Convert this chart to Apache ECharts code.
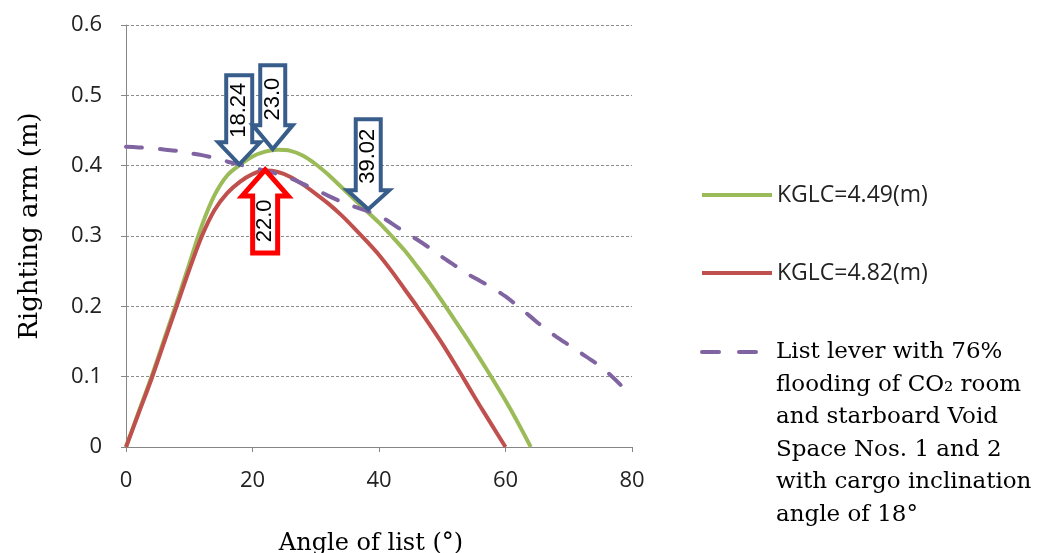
<!DOCTYPE html>
<html><head><meta charset="utf-8">
<script src="https://cdn.jsdelivr.net/npm/echarts@6/dist/echarts.min.js"></script>
<style>html,body{margin:0;padding:0;background:#fff}#c{width:1049px;height:553px}</style>
</head><body><div id="c"></div>
<script>
// ---- data ----
const angles = [0,2,4,6,8,10,12,14,16,18,20,22,24,26,28,30,32,34,36,38,40,42,44,46,48,50,52,54,56,58,60,62,64,66,68,70,72,74,76,78,80];
const kglc449 = [0,0.05,0.099,0.152,0.205,0.26,0.315,0.358,0.386,0.401,0.413,0.42,0.4225,0.421,0.414,0.402,0.387,0.37,0.353,0.336,0.319,0.3,0.28,0.257,0.233,0.207,0.18,0.153,0.125,0.096,0.066,0.034,0];
const kglc482 = [0,0.048,0.096,0.148,0.2,0.252,0.3,0.337,0.361,0.377,0.388,0.393,0.391,0.384,0.373,0.36,0.346,0.33,0.312,0.293,0.273,0.25,0.225,0.2,0.174,0.147,0.118,0.088,0.058,0.029,0];
const listLever = [0.427,0.426,0.425,0.423,0.421,0.418,0.415,0.411,0.406,0.4015,0.397,0.393,0.388,0.382,0.374,0.366,0.357,0.349,0.342,0.336,0.329,0.318,0.306,0.295,0.283,0.27,0.258,0.246,0.236,0.226,0.214,0.2,0.185,0.17,0.157,0.145,0.133,0.121,0.107,0.09,0.071];
const xTickLabels = ['0','20','40','60','80'];
const yTickLabels = ['0','0.1','0.2','0.3','0.4','0.5','0.6'];
const seriesNames = ['KGLC=4.49(m)','KGLC=4.82(m)','List lever with 76%\nflooding of CO\u2082 room\nand starboard Void\nSpace Nos. 1 and 2\nwith cargo inclination\nangle of 18\u00b0'];
// annotation arrows: tip position (angle, value) and label
const arrowAngles = [17.9, 23.2, 38.3, 22.0];
const arrowValues = [0.402, 0.4235, 0.338, 0.394];
const arrowLabels = ['18.24','23.0','39.02','22.0'];

// ---- styles ----
const arrowStyles = [
  {dir:'down', sw:26, hw:42, hl:22, sl:67, color:'#385D8A', lw:4, td:54},
  {dir:'down', sw:25, hw:40, hl:24, sl:60, color:'#385D8A', lw:4, td:50},
  {dir:'down', sw:25, hw:42, hl:19, sl:71, color:'#385D8A', lw:4, td:53},
  {dir:'up',   sw:25, hw:46, hl:26, sl:57, color:'#FF0000', lw:5, td:51}
];
const SANS = '"Open Sans", sans-serif';
const SERIF = '"DejaVu Serif", serif';
const COLORS = ['#9BBB59', '#C0504D', '#8064A2'];

function pairs(vals){ return vals.map((v,i)=>[angles[i], v]); }

const chart = echarts.init(document.getElementById('c'), null, {renderer:'canvas'});
chart.setOption({
  animation:false,
  backgroundColor:'#fff',
  grid:{left:126, right:417, top:25, bottom:106, containLabel:false, outerBoundsMode:'none'},
  xAxis:{
    type:'value', min:0, max:80, interval:20,
    name:'Angle of list (\u00b0)', nameLocation:'middle', nameGap:85,
    nameTextStyle:{fontFamily:SERIF, fontSize:24, color:'#000', padding:[0,16,0,0]},
    axisLine:{show:true, lineStyle:{color:'#868686', width:1}},
    axisTick:{show:true, length:5, lineStyle:{color:'#868686'}},
    axisLabel:{fontFamily:SANS, fontSize:22, color:'#222', margin:23,
      formatter:(v)=>xTickLabels[Math.round(v/20)]},
    splitLine:{show:false}
  },
  yAxis:{
    type:'value', min:0, max:0.6, interval:0.1,
    name:'Righting arm (m)', nameLocation:'middle', nameGap:83, nameRotate:90,
    nameTextStyle:{fontFamily:SERIF, fontSize:26, color:'#000', padding:[0,0,0,20]},
    axisLine:{show:true, lineStyle:{color:'#868686', width:1}},
    axisTick:{show:true, length:5, lineStyle:{color:'#868686'}},
    axisLabel:{fontFamily:SANS, fontSize:22, color:'#222', margin:24,
      formatter:(v)=>yTickLabels[Math.round(v*10)]},
    splitLine:{show:true, lineStyle:{color:'#8c8c8c', type:[3,2], width:1}}
  },
  legend:[
    {data:[seriesNames[0], seriesNames[1]], orient:'vertical', left:700, top:182, padding:0,
     itemWidth:70, itemHeight:14, itemGap:52,
     itemStyle:{opacity:0}, lineStyle:{width:4},
     textStyle:{fontFamily:SANS, fontSize:23, color:'#222', lineHeight:26}},
    {data:[seriesNames[2]], orient:'vertical', left:700, top:336, padding:0,
     itemWidth:70, itemHeight:14,
     itemStyle:{opacity:0}, lineStyle:{opacity:0},
     textStyle:{fontFamily:SERIF, fontSize:23, color:'#000', lineHeight:32.5}}
  ],
  series:[
    {name:seriesNames[0], type:'line', data:pairs(kglc449), symbol:'none', smooth:0.3,
     lineStyle:{color:COLORS[0], width:4}, itemStyle:{color:COLORS[0]}, z:3},
    {name:seriesNames[1], type:'line', data:pairs(kglc482), symbol:'none', smooth:0.3,
     lineStyle:{color:COLORS[1], width:4}, itemStyle:{color:COLORS[1]}, z:3},
    {name:seriesNames[2], type:'line', data:pairs(listLever), symbol:'none', smooth:0.3,
     lineStyle:{color:COLORS[2], width:4, type:[16,18], cap:'round'}, itemStyle:{color:COLORS[2]}, z:4}
  ]
});

// ---- annotation arrows, positioned through the axes ----
const g = [];
arrowLabels.forEach((lab,i)=>{
  const s = arrowStyles[i];
  const p = chart.convertToPixel({gridIndex:0}, [arrowAngles[i], arrowValues[i]]);
  const tx = p[0], ty = p[1];
  const d = s.dir === 'down' ? -1 : 1; // direction from tip towards the tail
  const hb = ty + d*s.hl, tail = ty + d*(s.hl+s.sl);
  const pts = [
    [tx - s.sw/2, tail], [tx + s.sw/2, tail], [tx + s.sw/2, hb], [tx + s.hw/2, hb],
    [tx, ty], [tx - s.hw/2, hb], [tx - s.sw/2, hb]
  ];
  g.push({type:'polygon', shape:{points:pts}, z:100,
    style:{fill:'#fff', stroke:s.color, lineWidth:s.lw, lineJoin:'miter'}});
  g.push({type:'text', x:tx, y:ty + d*s.td, rotation:Math.PI/2, z:101,
    style:{text:lab, fill:'#000', fontSize:22, fontFamily:'"Liberation Sans", Arial, sans-serif',
      align:'center', verticalAlign:'middle'}});
});
// dashed key mark beside the first line of the third legend entry
g.push({type:'line', z:50, shape:{x1:702, y1:352, x2:757, y2:352},
  style:{stroke:COLORS[2], lineWidth:4, lineDash:[17,20], lineCap:'round'}});
chart.setOption({graphic:g});
</script></body></html>
